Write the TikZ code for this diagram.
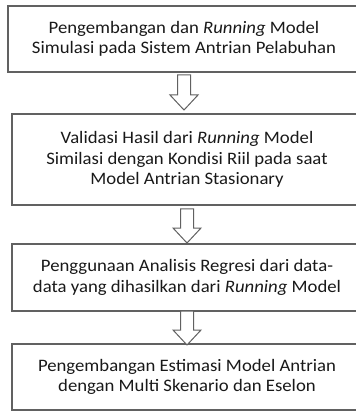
\documentclass[tikz,border=0pt]{standalone}
\usepackage{fontspec}
\setmainfont[FakeStretch=1.07]{Carlito}
\usetikzlibrary{calc}
\definecolor{edge}{gray}{0.38}
\definecolor{ink}{gray}{0.1}
\tikzset{
  stepbox/.style={draw=edge, line width=1.3pt, rectangle, align=center, text=ink,
    font=\fontsize{17.5}{20.5}\selectfont, inner sep=0pt},
  arrowline/.style={draw=edge, line width=1pt, fill=white, line join=miter}
}
\newcommand\blockarrow[2]{%
  \draw[arrowline] let \p1=(#1), \p2=(#2) in
    (\x1-6.5pt,\y1) -- (\x1+6.5pt,\y1) -- (\x1+6.5pt,\y2+15pt) -- (\x1+14pt,\y2+15pt)
    -- (\x1,\y2) -- (\x1-14pt,\y2+15pt) -- (\x1-6.5pt,\y2+15pt) -- cycle;}
\begin{document}
\begin{tikzpicture}[x=1pt,y=1pt]
\useasboundingbox (0,0) rectangle (355,-411);
\node[stepbox, minimum width=352pt, minimum height=66pt] (b1) at (184,-39)
  {Pengembangan dan \textit{Running} Model\\Simulasi pada Sistem Antrian Pelabuhan};
\node[stepbox, minimum width=350pt, minimum height=91pt] (b2) at (187,-159.5)
  {Validasi Hasil dari \textit{Running} Model\\Similasi dengan Kondisi Riil pada saat\\Model Antrian Stasionary};
\node[stepbox, minimum width=350pt, minimum height=67pt] (b3) at (187,-277.5)
  {Penggunaan Analisis Regresi dari data-\\data yang dihasilkan dari \textit{Running} Model};
\node[stepbox, minimum width=350pt, minimum height=66pt] (b4) at (187,-377)
  {Pengembangan Estimasi Model Antrian\\dengan Multi Skenario dan Eselon};
\coordinate (a1s) at (184,-75);
\coordinate (a1t) at (184,-110);
\coordinate (a2s) at (187,-209);
\coordinate (a2t) at (187,-243);
\coordinate (a3s) at (187,-311);
\coordinate (a3t) at (187,-345);
\blockarrow{a1s}{a1t}
\blockarrow{a2s}{a2t}
\blockarrow{a3s}{a3t}
\end{tikzpicture}
\end{document}
